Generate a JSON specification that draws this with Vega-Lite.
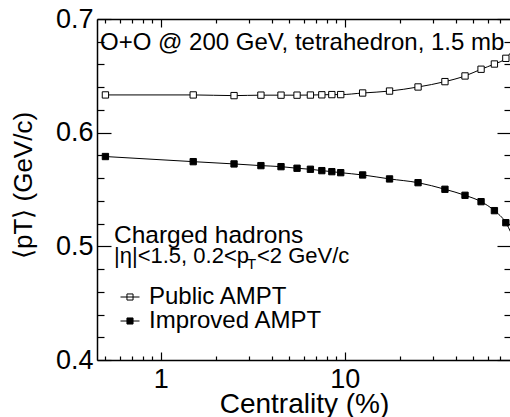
{
  "$schema": "https://vega.github.io/schema/vega-lite/v6.json",
  "width": 414,
  "height": 341,
  "autosize": "none",
  "padding": {"left": 97, "top": 19, "right": 0, "bottom": 57},
  "background": "white",
  "config": {"view": {"stroke": null}, "font": "Liberation Sans"},
  "data": {"values": [
    {"series": "Public AMPT", "c": 0.5, "pt": 0.6332},
    {"series": "Public AMPT", "c": 1.5, "pt": 0.6332},
    {"series": "Public AMPT", "c": 2.5, "pt": 0.6326},
    {"series": "Public AMPT", "c": 3.5, "pt": 0.6330},
    {"series": "Public AMPT", "c": 4.5, "pt": 0.6330},
    {"series": "Public AMPT", "c": 5.5, "pt": 0.6330},
    {"series": "Public AMPT", "c": 6.5, "pt": 0.6331},
    {"series": "Public AMPT", "c": 7.5, "pt": 0.6333},
    {"series": "Public AMPT", "c": 8.5, "pt": 0.6335},
    {"series": "Public AMPT", "c": 9.5, "pt": 0.6335},
    {"series": "Public AMPT", "c": 12.5, "pt": 0.6349},
    {"series": "Public AMPT", "c": 17.5, "pt": 0.6366},
    {"series": "Public AMPT", "c": 25, "pt": 0.6402},
    {"series": "Public AMPT", "c": 35, "pt": 0.6449},
    {"series": "Public AMPT", "c": 45, "pt": 0.6499},
    {"series": "Public AMPT", "c": 55, "pt": 0.6558},
    {"series": "Public AMPT", "c": 65, "pt": 0.6604},
    {"series": "Public AMPT", "c": 75, "pt": 0.6654},
    {"series": "Public AMPT", "c": 85, "pt": 0.677},
    {"series": "Improved AMPT", "c": 0.5, "pt": 0.579},
    {"series": "Improved AMPT", "c": 1.5, "pt": 0.5745},
    {"series": "Improved AMPT", "c": 2.5, "pt": 0.5725},
    {"series": "Improved AMPT", "c": 3.5, "pt": 0.571},
    {"series": "Improved AMPT", "c": 4.5, "pt": 0.5701},
    {"series": "Improved AMPT", "c": 5.5, "pt": 0.5687},
    {"series": "Improved AMPT", "c": 6.5, "pt": 0.5678},
    {"series": "Improved AMPT", "c": 7.5, "pt": 0.5666},
    {"series": "Improved AMPT", "c": 8.5, "pt": 0.5657},
    {"series": "Improved AMPT", "c": 9.5, "pt": 0.5648},
    {"series": "Improved AMPT", "c": 12.5, "pt": 0.5628},
    {"series": "Improved AMPT", "c": 17.5, "pt": 0.5593},
    {"series": "Improved AMPT", "c": 25, "pt": 0.556},
    {"series": "Improved AMPT", "c": 35, "pt": 0.5502},
    {"series": "Improved AMPT", "c": 45, "pt": 0.5449},
    {"series": "Improved AMPT", "c": 55, "pt": 0.5393},
    {"series": "Improved AMPT", "c": 65, "pt": 0.5314},
    {"series": "Improved AMPT", "c": 75, "pt": 0.5208},
    {"series": "Improved AMPT", "c": 85, "pt": 0.502}
  ]},
  "resolve": {"axis": {"x": "independent", "y": "independent"}},
  "layer": [
    {
      "mark": {"type": "line", "color": "black", "strokeWidth": 1, "interpolate": "monotone", "clip": true},
      "encoding": {
        "x": {"field": "c", "type": "quantitative", "scale": {"type": "log", "domain": [0.45, 80]},
          "axis": {"orient": "bottom", "values": [1, 10], "format": "~g", "ticks": false, "domain": true, "domainColor": "black", "domainWidth": 1.5, "grid": false,
            "labelFontSize": 27, "labelFont": "Liberation Sans", "labelColor": "black", "labelPadding": 6, "labelFlush": false, "labelOverlap": false,
            "title": "Centrality (%)", "titleFontSize": 28, "titleFont": "Liberation Sans", "titleFontWeight": "normal", "titleColor": "black", "titleBaseline": "alphabetic", "titleY": 52}},
        "y": {"field": "pt", "type": "quantitative", "scale": {"domain": [0.4, 0.7]},
          "axis": {"orient": "left", "values": [0.4, 0.5, 0.6, 0.7], "format": ".1f", "ticks": false, "domain": true, "domainColor": "black", "domainWidth": 1.5, "grid": false,
            "labelFontSize": 27, "labelFont": "Liberation Sans", "labelColor": "black", "labelPadding": 4, "labelFlush": false, "labelOverlap": false,
            "title": "⟨pT⟩ (GeV/c)", "titleFontSize": 26, "titleFont": "Liberation Sans", "titleFontWeight": "normal", "titleColor": "black", "titleBaseline": "alphabetic", "titleAlign": "center", "titleX": -66, "titleY": 166}},
        "detail": {"field": "series", "type": "nominal"}
      }
    },
    {
      "mark": {"type": "point", "shape": "square", "size": 40, "stroke": "black", "strokeWidth": 1, "opacity": 1, "clip": true},
      "encoding": {
        "x": {"field": "c", "type": "quantitative", "scale": {"type": "log", "domain": [0.45, 80]},
          "axis": {"orient": "bottom", "values": [1, 10], "domain": false, "labels": false, "ticks": true, "tickSize": -8, "tickColor": "black", "tickWidth": 1.2, "grid": false, "title": null}},
        "y": {"field": "pt", "type": "quantitative", "scale": {"domain": [0.4, 0.7]},
          "axis": {"orient": "left", "values": [0.4, 0.5, 0.6, 0.7], "domain": false, "labels": false, "ticks": true, "tickSize": -14, "tickColor": "black", "tickWidth": 1.2, "grid": false, "title": null}},
        "fill": {"field": "series", "type": "nominal",
          "scale": {"domain": ["Public AMPT", "Improved AMPT"], "range": ["white", "black"]},
          "legend": {"orient": "none", "legendX": 21, "legendY": 266, "title": null, "padding": 0,
            "symbolType": "M-1,0H1M-0.32,-0.32H0.32V0.32H-0.32Z", "symbolSize": 361, "symbolStrokeColor": "black", "symbolStrokeWidth": 1, "symbolOpacity": 1,
            "labelFontSize": 24, "labelFont": "Liberation Sans", "labelColor": "black", "labelOffset": 7, "labelLimit": 400, "rowPadding": 0}}
      }
    },
    {
      "data": {"values": [{"label": "O+O @ 200 GeV, tetrahedron, 1.5 mb"}]},
      "mark": {"type": "text", "align": "left", "baseline": "alphabetic", "fontSize": 24, "font": "Liberation Sans", "color": "black", "dx": 3},
      "encoding": {
        "text": {"field": "label"},
        "x": {"datum": 0.45, "type": "quantitative", "scale": {"type": "log", "domain": [0.45, 80]},
          "axis": {"orient": "bottom", "values": [0.5, 0.6, 0.7, 0.8, 0.9, 2, 3, 4, 5, 6, 7, 8, 9, 20, 30, 40, 50, 60, 70, 80], "domain": false, "labels": false, "ticks": true, "tickSize": -4, "tickColor": "black", "tickWidth": 1.2, "grid": false, "title": null}},
        "y": {"datum": 0.6727, "type": "quantitative", "scale": {"domain": [0.4, 0.7]},
          "axis": {"orient": "left", "values": [0.42, 0.44, 0.46, 0.48, 0.52, 0.54, 0.56, 0.58, 0.62, 0.64, 0.66, 0.68], "domain": false, "labels": false, "ticks": true, "tickSize": -7, "tickColor": "black", "tickWidth": 1.2, "grid": false, "title": null}}
      }
    },
    {
      "data": {"values": [{"label": "Charged hadrons"}]},
      "mark": {"type": "text", "align": "left", "baseline": "alphabetic", "fontSize": 24.5, "font": "Liberation Sans", "color": "black", "dx": 17},
      "encoding": {
        "text": {"field": "label"},
        "x": {"datum": 0.45, "type": "quantitative", "scale": {"type": "log", "domain": [0.45, 80]},
          "axis": {"orient": "top", "values": [1, 10], "domain": true, "domainColor": "black", "domainWidth": 1.5, "labels": false, "ticks": true, "tickSize": -8, "tickColor": "black", "tickWidth": 1.2, "grid": false, "title": null}},
        "y": {"datum": 0.5027, "type": "quantitative", "scale": {"domain": [0.4, 0.7]},
          "axis": {"orient": "right", "values": [0.4, 0.5, 0.6, 0.7], "domain": true, "domainColor": "black", "domainWidth": 1.5, "labels": false, "ticks": true, "tickSize": -14, "tickColor": "black", "tickWidth": 1.2, "grid": false, "title": null}}
      }
    },
    {
      "data": {"values": [{"label": "|η|<1.5, 0.2<p"}]},
      "mark": {"type": "text", "align": "left", "baseline": "alphabetic", "fontSize": 22, "font": "Liberation Sans", "color": "black", "dx": 17},
      "encoding": {
        "text": {"field": "label"},
        "x": {"datum": 0.45, "type": "quantitative", "scale": {"type": "log", "domain": [0.45, 80]},
          "axis": {"orient": "top", "values": [0.5, 0.6, 0.7, 0.8, 0.9, 2, 3, 4, 5, 6, 7, 8, 9, 20, 30, 40, 50, 60, 70, 80], "domain": false, "labels": false, "ticks": true, "tickSize": -4, "tickColor": "black", "tickWidth": 1.2, "grid": false, "title": null}},
        "y": {"datum": 0.4851, "type": "quantitative", "scale": {"domain": [0.4, 0.7]},
          "axis": {"orient": "right", "values": [0.42, 0.44, 0.46, 0.48, 0.52, 0.54, 0.56, 0.58, 0.62, 0.64, 0.66, 0.68], "domain": false, "labels": false, "ticks": true, "tickSize": -7, "tickColor": "black", "tickWidth": 1.2, "grid": false, "title": null}}
      }
    },
    {
      "data": {"values": [{"label": "T"}]},
      "mark": {"type": "text", "align": "left", "baseline": "alphabetic", "fontSize": 15, "font": "Liberation Sans", "color": "black", "dx": 150, "dy": 6},
      "encoding": {
        "text": {"field": "label"},
        "x": {"datum": 0.45, "type": "quantitative", "scale": {"type": "log", "domain": [0.45, 80]}, "axis": null},
        "y": {"datum": 0.4851, "type": "quantitative", "scale": {"domain": [0.4, 0.7]}, "axis": null}
      }
    },
    {
      "data": {"values": [{"label": "<2 GeV/c"}]},
      "mark": {"type": "text", "align": "left", "baseline": "alphabetic", "fontSize": 22, "font": "Liberation Sans", "color": "black", "dx": 160},
      "encoding": {
        "text": {"field": "label"},
        "x": {"datum": 0.45, "type": "quantitative", "scale": {"type": "log", "domain": [0.45, 80]}, "axis": null},
        "y": {"datum": 0.4851, "type": "quantitative", "scale": {"domain": [0.4, 0.7]}, "axis": null}
      }
    }
  ]
}
